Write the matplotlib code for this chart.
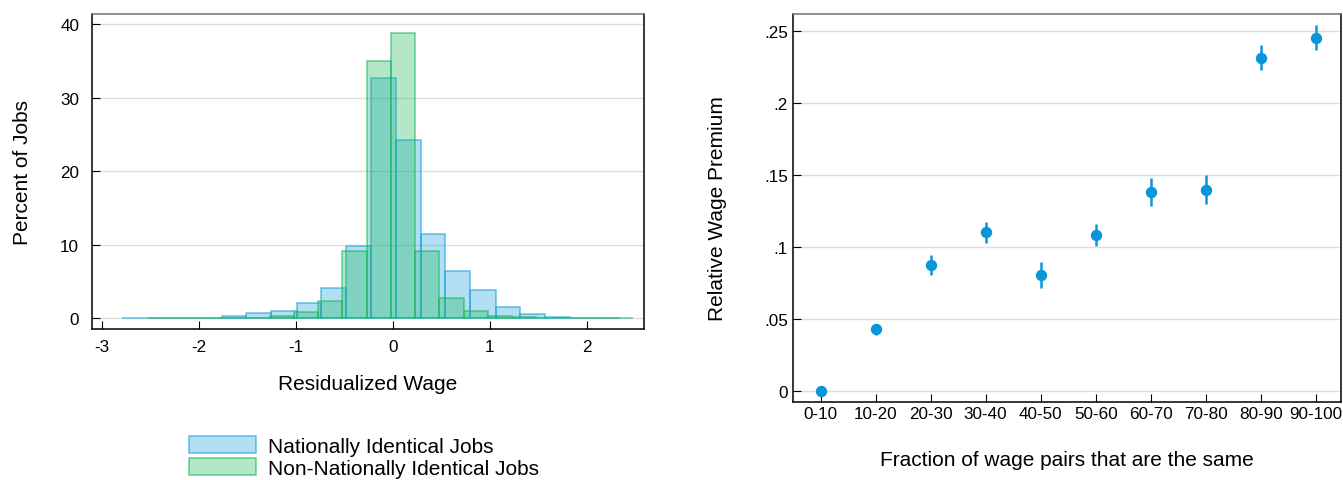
import numpy as np
import matplotlib
matplotlib.use("Agg")
import matplotlib.pyplot as plt
from matplotlib.patches import Patch

plt.rcParams['font.family'] = ['Liberation Sans', 'DejaVu Sans']

# histograma: bordes de bins y porcentajes
bordes_nacional = [-2.79, -2.53, -2.28, -2.02, -1.76, -1.51, -1.25, -0.99, -0.74, -0.48,
                   -0.225, 0.03, 0.29, 0.54, 0.80, 1.06, 1.31, 1.57, 1.83, 2.08, 2.34]
pct_nacional = [0.05, 0.05, 0.06, 0.10, 0.27, 0.68, 0.95, 2.04, 4.18, 9.9,
                32.7, 24.2, 11.5, 6.45, 3.9, 1.6, 0.55, 0.15, 0.08, 0.05]

bordes_no_nacional = [-2.52, -2.27, -2.02, -1.77, -1.52, -1.27, -1.02, -0.77, -0.52, -0.27,
                      -0.02, 0.23, 0.48, 0.73, 0.98, 1.23, 1.48, 1.73, 1.98, 2.23, 2.48]
pct_no_nacional = [0.03, 0.04, 0.05, 0.05, 0.10, 0.25, 0.82, 2.4, 9.1, 35.0,
                   38.8, 9.1, 2.7, 0.95, 0.35, 0.15, 0.08, 0.05, 0.04, 0.03]

# premio salarial por tramo
tramos = ["0-10", "10-20", "20-30", "30-40", "40-50", "50-60", "60-70", "70-80", "80-90", "90-100"]
premio = [0.0, 0.0428, 0.0873, 0.110, 0.0803, 0.108, 0.138, 0.1398, 0.2315, 0.2454]
error = [0.001, 0.0038, 0.0072, 0.0075, 0.0089, 0.0076, 0.0098, 0.0100, 0.0089, 0.0089]

yticks_izq = [0, 10, 20, 30, 40]
xticks_izq = [-3, -2, -1, 0, 1, 2]
yticks_der = [0, 0.05, 0.1, 0.15, 0.2, 0.25]
ylabels_der = ["0", ".05", ".1", ".15", ".2", ".25"]

azul = (26/255, 159/255, 222/255)
verde = (25/255, 185/255, 88/255)
punto = '#0a95d8'
grilla = '#dedede'

fig = plt.figure(figsize=(13.43, 4.81), dpi=100)
ax1 = fig.add_axes([0.06828, 0.31393, 0.41125, 0.65489])
ax2 = fig.add_axes([0.59069, 0.16279, 0.40804, 0.80603])

# panel izquierdo
for bordes, pct, color in [(bordes_nacional, pct_nacional, azul),
                           (bordes_no_nacional, pct_no_nacional, verde)]:
    b = np.array(bordes)
    ax1.bar(b[:-1], pct, width=np.diff(b), align='edge',
            facecolor=color + (0.33,), edgecolor=color + (0.6,), linewidth=1.2)

ax1.set_xlim(-3.103, 2.59)
ax1.set_ylim(-1.46, 41.4)
ax1.set_yticks(yticks_izq)
ax1.set_xticks(xticks_izq)
ax1.set_xticklabels([str(t) for t in xticks_izq])
ax1.yaxis.grid(True, color=grilla, linewidth=1.0)
ax1.set_axisbelow(True)
ax1.tick_params(direction='in', length=5.5, width=0.8, labelsize=12.3, pad=7)
ax1.tick_params(axis='y', pad=9)
ax1.set_ylabel("Percent of Jobs", fontsize=15)
ax1.yaxis.set_label_coords(-0.1253, 0.5)
ax1.yaxis.label.set_va('center')
ax1.set_xlabel("Residualized Wage", fontsize=15)
ax1.xaxis.set_label_coords(0.5, -0.1746)
ax1.xaxis.label.set_va('center')

handles = [Patch(facecolor=azul + (0.33,), edgecolor=azul + (0.6,), linewidth=1.2),
           Patch(facecolor=verde + (0.33,), edgecolor=verde + (0.6,), linewidth=1.2)]
fig.legend(handles, ["Nationally Identical Jobs", "Non-Nationally Identical Jobs"],
           loc='center', bbox_to_anchor=(364 / 1343, 1 - 458 / 481), frameon=False,
           fontsize=15, handlelength=3.2, handleheight=0.85, handletextpad=0.55,
           labelspacing=0.1, borderpad=0)

# panel derecho
x = np.arange(len(tramos))
ax2.errorbar(x, premio, yerr=error, fmt='o', color=punto, markersize=7.2,
             elinewidth=1.8, capsize=0, zorder=3)
ax2.set_xlim(-0.498, 9.465)
ax2.set_ylim(-0.00765, 0.2618)
ax2.set_xticks(x)
ax2.set_xticklabels(tramos)
ax2.set_yticks(yticks_der)
ax2.set_yticklabels(ylabels_der)
ax2.yaxis.grid(True, color=grilla, linewidth=1.0)
ax2.set_axisbelow(True)
ax2.tick_params(direction='in', length=5.5, width=0.8, labelsize=12.3, pad=3)
ax2.tick_params(axis='y', pad=4)
ax2.set_ylabel("Relative Wage Premium", fontsize=15)
ax2.yaxis.set_label_coords(-0.1392, 0.5)
ax2.yaxis.label.set_va('center')
ax2.set_xlabel("Fraction of wage pairs that are the same", fontsize=15)
ax2.xaxis.set_label_coords(0.5, -0.1478)
ax2.xaxis.label.set_va('center')

for ax in (ax1, ax2):
    for s in ax.spines.values():
        s.set_linewidth(1.1)
        s.set_color('black')
    ax.spines['top'].set_color('#707070')

fig.savefig("out.png", dpi=100)
